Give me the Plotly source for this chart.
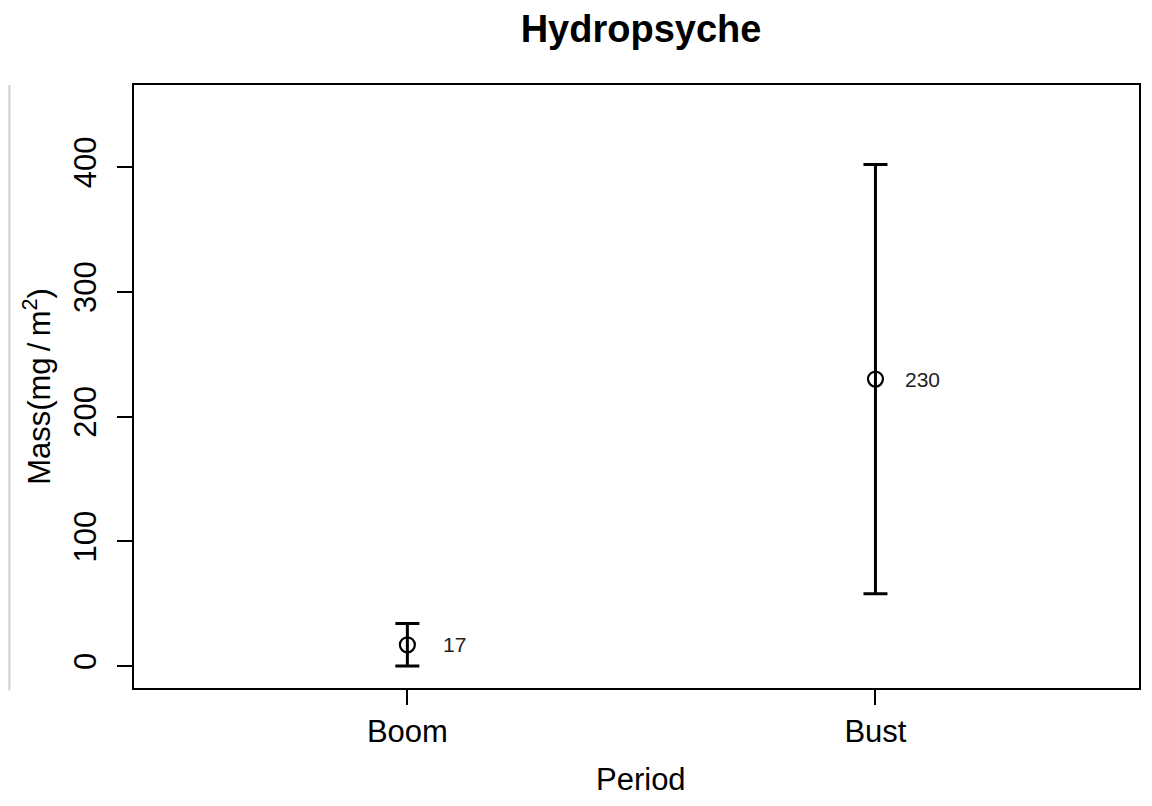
import plotly.graph_objects as go

periods = ["Boom", "Bust"]
x_pos = [1, 2]
means = [17, 230]
errors = [17, 172]
labels = ["17", "230"]

fig = go.Figure()
fig.add_trace(go.Scatter(
    x=x_pos, y=means, mode="markers",
    marker=dict(symbol="circle-open", size=15, color="black", line=dict(width=2.2, color="black")),
    error_y=dict(type="data", array=errors, visible=True, color="black", thickness=3, width=12),
    showlegend=False, hoverinfo="skip",
))
for xp, m, lab in zip(x_pos, means, labels):
    fig.add_annotation(x=xp, y=m, text=lab, showarrow=False, xshift=47,
                       font=dict(family="Liberation Sans, Arial", size=21, color="#222222"))

fig.add_annotation(x=0.5045, y=0, xref="paper", yref="paper", text="Period", showarrow=False,
                   xanchor="center", yanchor="top", yshift=-72,
                   font=dict(family="Liberation Sans, Arial", size=31, color="black"))

fig.add_shape(type="line", xref="paper", yref="paper", x0=-0.124, x1=-0.124, y0=-0.004, y1=1.0,
              line=dict(color="#d0d0d0", width=2))

fig.update_layout(
    width=1136, height=790,
    margin=dict(l=126, r=3, t=77, b=110),
    paper_bgcolor="white", plot_bgcolor="white",
    font=dict(family="Liberation Sans, Arial", color="black"),
    title=dict(text="<b>Hydropsyche</b>", x=0.5045, xref="paper", xanchor="center",
               y=0.974, yref="container", yanchor="middle", font=dict(size=38, color="black")),
    xaxis=dict(range=[0.416, 2.563], tickvals=x_pos, ticktext=periods,
               showline=True, mirror=True, linecolor="black", linewidth=1.5,
               ticks="outside", ticklen=15, tickwidth=1.5, tickcolor="black",
               showgrid=False, zeroline=False,
               tickfont=dict(size=31, color="black")),
    yaxis=dict(range=[-17.6, 465.7], tickvals=[0, 100, 200, 300, 400],
               showline=True, mirror=True, linecolor="black", linewidth=1.5,
               ticks="outside", ticklen=15, tickwidth=1.5, tickcolor="black",
               showgrid=False, zeroline=False, tickangle=-90, ticklabelstandoff=9,
               tickfont=dict(size=31, color="black"),
               title=dict(text="Mass(mg\u2009/\u2009m<sup>2</sup>)", font=dict(size=31, color="black"), standoff=8)),
)

fig.write_html("out.html")
